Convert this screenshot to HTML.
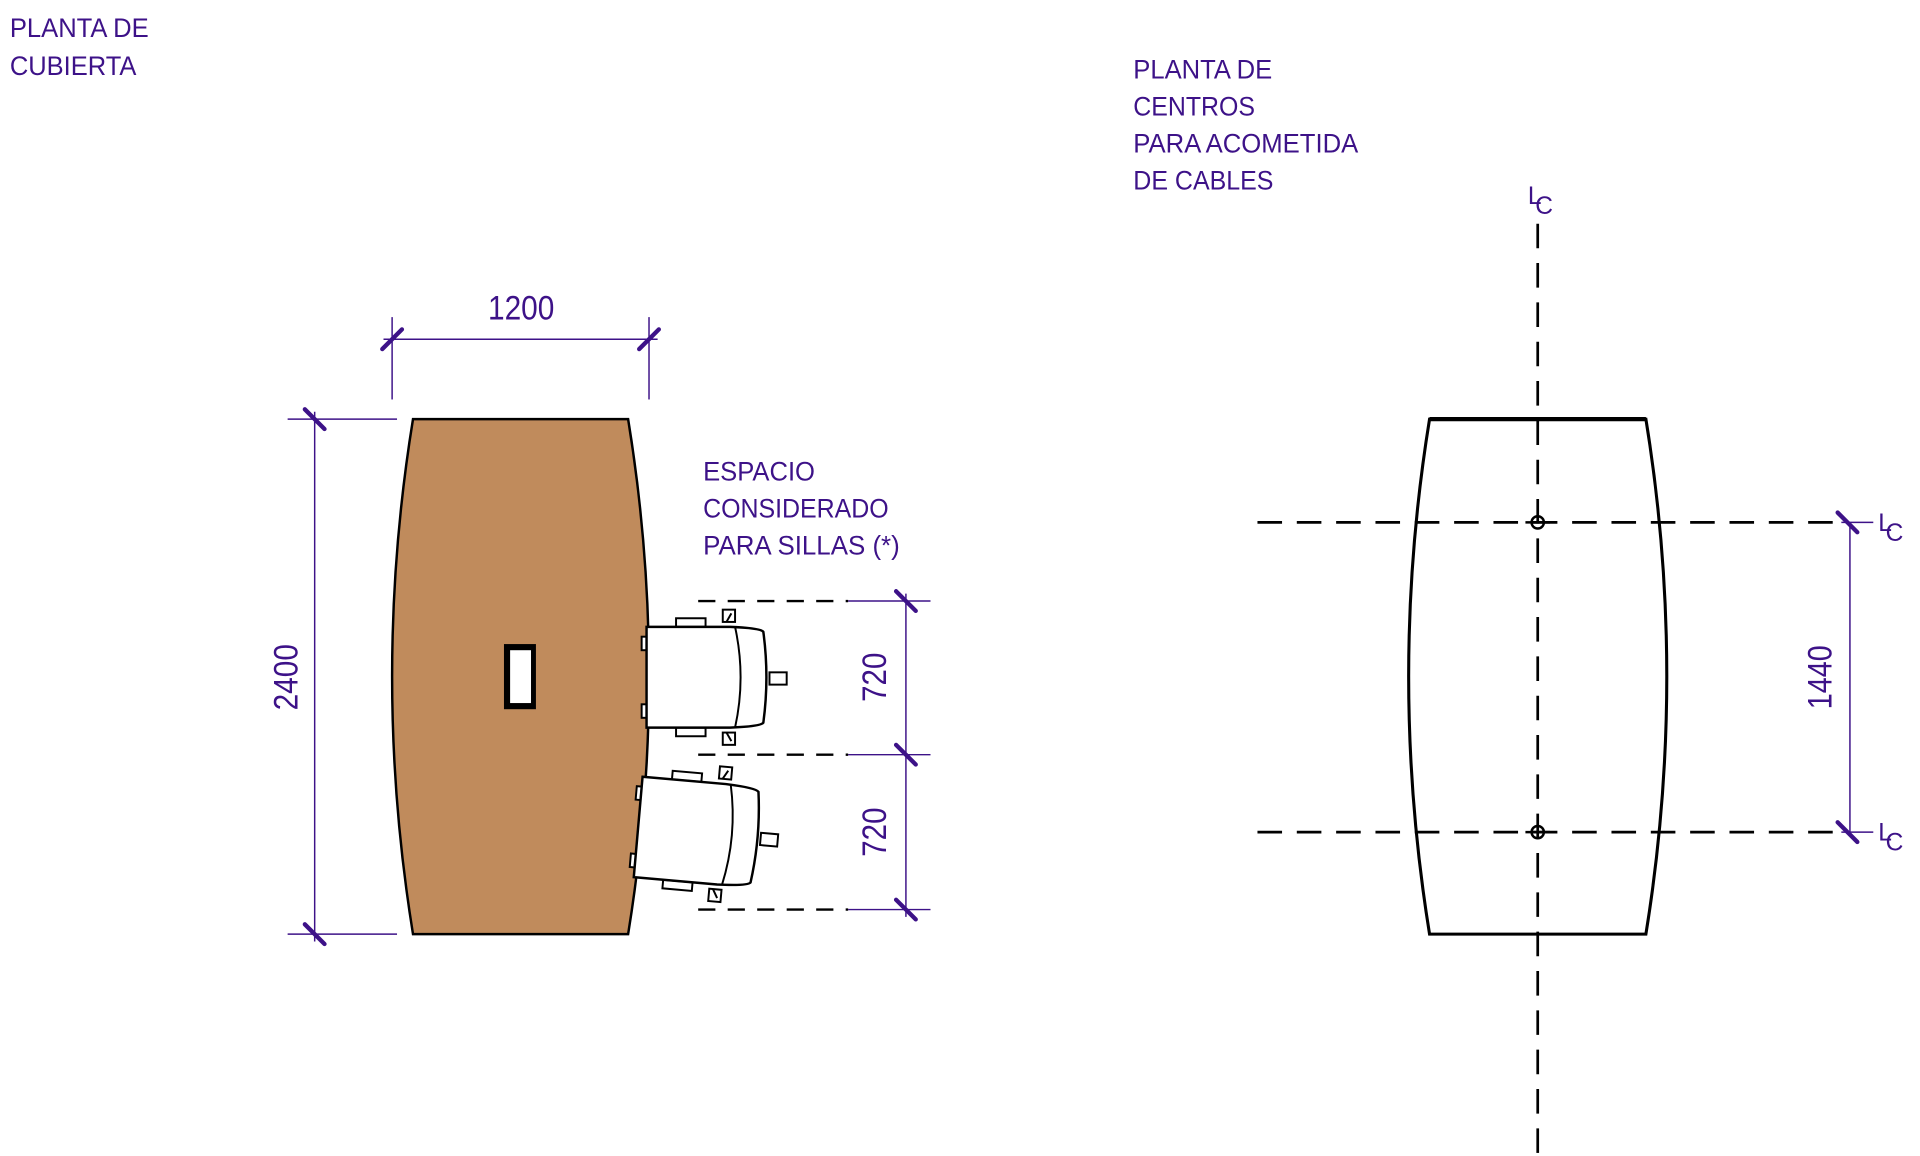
<!DOCTYPE html>
<html><head><meta charset="utf-8"><style>
html,body{margin:0;padding:0;background:#fff;}
svg{display:block;}
text{font-family:"Liberation Sans",sans-serif;fill:#3d1288;}
</style></head><body>
<svg width="1920" height="1156" viewBox="0 0 1562 940.5" preserveAspectRatio="none" xmlns="http://www.w3.org/2000/svg">
<defs>
<g id="chair" fill="#fff" stroke="#000" stroke-width="1.6">
  <rect x="-24" y="-48" width="24" height="7"/>
  <rect x="-24" y="41" width="24" height="7"/>
  <rect x="14" y="-55" width="10" height="10"/>
  <rect x="14" y="45" width="10" height="10"/>
  <rect x="-52" y="-33" width="4" height="11"/>
  <rect x="-52" y="22" width="4" height="11"/>
  <rect x="52" y="-4" width="14" height="10"/>
  <path d="M-48,-41 L20,-41 Q45,-40 47,-37 Q52,0 47,37 Q45,40 20,41 L-48,41 Z" stroke-width="2"/>
  <path d="M24,-41 Q33,0 24,41" fill="none"/>
  <path d="M17,-45 L21,-52 M17,45 L21,52" fill="none"/>
</g>
<g id="tick"><line x1="-8" y1="-8" x2="8" y2="8" stroke="#3d1288" stroke-width="3.5" stroke-linecap="round"/></g>
</defs>

<text x="8" y="30" font-size="22" textLength="113" lengthAdjust="spacingAndGlyphs">PLANTA DE</text>
<text x="8" y="61" font-size="22" textLength="103" lengthAdjust="spacingAndGlyphs">CUBIERTA</text>
<text x="922" y="64" font-size="22" textLength="113" lengthAdjust="spacingAndGlyphs">PLANTA DE</text>
<text x="922" y="94" font-size="22" textLength="99" lengthAdjust="spacingAndGlyphs">CENTROS</text>
<text x="922" y="124" font-size="22" textLength="183" lengthAdjust="spacingAndGlyphs">PARA ACOMETIDA</text>
<text x="922" y="154" font-size="22" textLength="114" lengthAdjust="spacingAndGlyphs">DE CABLES</text>
<text x="572" y="391" font-size="22" textLength="91" lengthAdjust="spacingAndGlyphs">ESPACIO</text>
<text x="572" y="421" font-size="22" textLength="151" lengthAdjust="spacingAndGlyphs">CONSIDERADO</text>
<text x="572" y="451" font-size="22" textLength="160" lengthAdjust="spacingAndGlyphs">PARA SILLAS (*)</text>

<g stroke="#3d1288" stroke-width="1.2" fill="none">
  <line x1="319" y1="258" x2="319" y2="325"/>
  <line x1="528" y1="258" x2="528" y2="325"/>
  <line x1="312" y1="276" x2="535" y2="276"/>
  <line x1="234" y1="341" x2="323" y2="341"/>
  <line x1="234" y1="760" x2="323" y2="760"/>
  <line x1="256" y1="335" x2="256" y2="766"/>
  <line x1="690" y1="489" x2="757" y2="489"/>
  <line x1="690" y1="614" x2="757" y2="614"/>
  <line x1="690" y1="740" x2="757" y2="740"/>
  <line x1="737" y1="483" x2="737" y2="746"/>
</g>
<use href="#tick" transform="translate(319,276) rotate(-90)"/>
<use href="#tick" transform="translate(528,276) rotate(-90)"/>
<use href="#tick" x="256" y="341"/>
<use href="#tick" x="256" y="760"/>
<use href="#tick" x="737" y="489"/>
<use href="#tick" x="737" y="614"/>
<use href="#tick" x="737" y="740"/>
<text x="424" y="260" font-size="28" text-anchor="middle" textLength="54" lengthAdjust="spacingAndGlyphs">1200</text>
<text transform="translate(242,551) rotate(-90)" font-size="28" text-anchor="middle" textLength="54" lengthAdjust="spacingAndGlyphs">2400</text>
<text transform="translate(721,551) rotate(-90)" font-size="28" text-anchor="middle" textLength="40" lengthAdjust="spacingAndGlyphs">720</text>
<text transform="translate(721,677) rotate(-90)" font-size="28" text-anchor="middle" textLength="40" lengthAdjust="spacingAndGlyphs">720</text>

<g stroke="#000" stroke-width="2" stroke-dasharray="14,10" fill="none">
  <line x1="568" y1="489" x2="690" y2="489"/>
  <line x1="568" y1="614" x2="690" y2="614"/>
  <line x1="568" y1="740" x2="690" y2="740"/>
</g>

<path d="M336,341 L511,341 Q545,550 511,760 L336,760 Q302,550 336,341 Z" fill="#c08b5c" stroke="#000" stroke-width="2"/>
<rect x="410" y="524" width="26" height="53" fill="#000"/>
<rect x="415" y="529" width="17" height="43" fill="#fff"/>

<use href="#chair" transform="translate(574,551)"/>
<use href="#chair" transform="translate(567,677) rotate(5)"/>

<path d="M1163,341 L1339,341 Q1373,550 1339,760 L1163,760 Q1129,550 1163,341 Z" fill="none" stroke="#000" stroke-width="2.5"/>
<line x1="1163" y1="341" x2="1339" y2="341" stroke="#000" stroke-width="3.5"/>
<g stroke="#000" stroke-width="2.2" stroke-dasharray="20,12" fill="none">
  <line x1="1251" y1="182" x2="1251" y2="940"/>
  <line x1="1023" y1="425" x2="1498" y2="425"/>
  <line x1="1023" y1="677" x2="1498" y2="677"/>
</g>
<g fill="none" stroke="#000" stroke-width="2">
  <circle cx="1251" cy="425" r="5"/><line x1="1241" y1="425" x2="1261" y2="425"/>
  <circle cx="1251" cy="677" r="5"/><line x1="1241" y1="677" x2="1261" y2="677"/>
</g>
<g stroke="#3d1288" stroke-width="1.2">
  <line x1="1498" y1="425" x2="1524" y2="425"/>
  <line x1="1498" y1="677" x2="1524" y2="677"/>
  <line x1="1505" y1="425" x2="1505" y2="677"/>
</g>
<use href="#tick" x="1503" y="425"/>
<use href="#tick" x="1503" y="677"/>
<text transform="translate(1490,551) rotate(-90)" font-size="28" text-anchor="middle" textLength="52" lengthAdjust="spacingAndGlyphs">1440</text>
<g font-size="20">
  <text x="1243" y="166">L</text><text x="1249" y="174">C</text>
  <text x="1528" y="432">L</text><text x="1534" y="440">C</text>
  <text x="1528" y="684">L</text><text x="1534" y="692">C</text>
</g>
</svg>
</body></html>
